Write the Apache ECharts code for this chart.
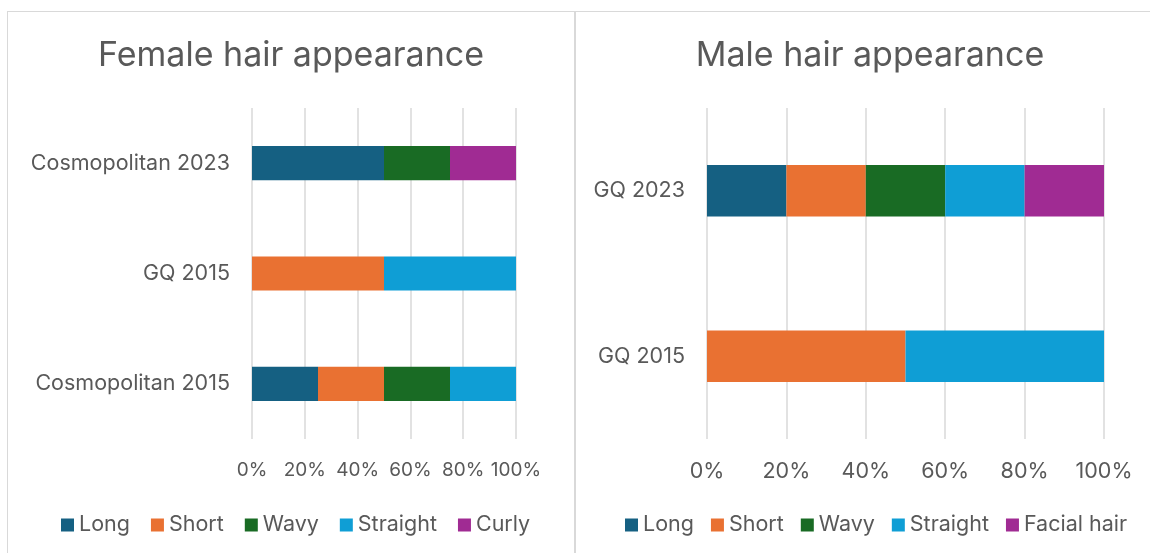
<!DOCTYPE html>
<html>
<head>
<meta charset="utf-8">
<script src="https://cdn.jsdelivr.net/npm/echarts@6/dist/echarts.min.js"></script>
<style>
  body { margin: 0; background: #fff; }
  #wrap { position: relative; width: 1150px; height: 553px; overflow: hidden; }
  .panel { position: absolute; border: 1.5px solid #d9d9d9; }
  #chart { position: absolute; left: 0; top: 0; width: 1150px; height: 553px; }
</style>
</head>
<body>
<div id="wrap">
  <div class="panel" style="left:7px; top:11px; width:566px; height:560px;"></div>
  <div class="panel" style="left:575px; top:11px; width:600px; height:560px;"></div>
  <div id="chart"></div>
</div>
<script>
  // female chart (categories bottom -> top)
  var femaleCats = ['Cosmopolitan 2015', 'GQ 2015', 'Cosmopolitan 2023'];
  var femaleLong = [25, 0, 50];
  var femaleShort = [25, 50, 0];
  var femaleWavy = [25, 0, 25];
  var femaleStraight = [25, 50, 0];
  var femaleCurly = [0, 0, 25];

  // male chart
  var maleCats = ['GQ 2015', 'GQ 2023'];
  var maleLong = [0, 20];
  var maleShort = [50, 20];
  var maleWavy = [0, 20];
  var maleStraight = [50, 20];
  var maleFacial = [0, 20];

  var colors = ['#156082', '#E97132', '#196B24', '#0F9ED5', '#A02B93'];
  var txt = '#595959';
  var font = 'Inter, "Open Sans", sans-serif';

  function bar(name, data, idx, stack, c) {
    return {
      name: name, type: 'bar', stack: stack, data: data,
      xAxisIndex: idx, yAxisIndex: idx, barWidth: '31%',
      itemStyle: { color: c }
    };
  }

  function valAxis(idx, size) {
    return {
      type: 'value', gridIndex: idx, min: 0, max: 100, interval: 20,
      axisLine: { show: false }, axisTick: { show: false },
      splitLine: { lineStyle: { color: '#d9d9d9', width: 1.5 } },
      axisLabel: { color: txt, fontSize: size, fontFamily: font, margin: 22, formatter: '{value}%' }
    };
  }

  function catAxis(idx, cats) {
    return {
      type: 'category', gridIndex: idx, data: cats,
      axisLine: { show: false }, axisTick: { show: false },
      axisLabel: { color: txt, fontSize: 21.5, fontFamily: font, margin: 22 }
    };
  }

  var chart = echarts.init(document.getElementById('chart'));
  chart.setOption({
    animation: false,
    textStyle: { fontFamily: font },
    title: [
      { text: 'Female hair appearance', left: 286, top: 34, textAlign: 'center',
        textStyle: { color: txt, fontSize: 34, fontWeight: 'normal', fontFamily: font } },
      { text: 'Male hair appearance', left: 865, top: 34, textAlign: 'center',
        textStyle: { color: txt, fontSize: 34, fontWeight: 'normal', fontFamily: font } }
    ],
    legend: [
      { data: ['Long', 'Short', 'Wavy', 'Straight', 'Curly'], left: 56, top: 509,
        icon: 'rect', itemWidth: 13, itemHeight: 13, itemGap: 21,
        textStyle: { color: txt, fontSize: 21.5, fontFamily: font } },
      { data: ['Long', 'Short', 'Wavy', 'Straight', 'Facial hair'], left: 620, top: 509,
        icon: 'rect', itemWidth: 13, itemHeight: 13, itemGap: 17,
        textStyle: { color: txt, fontSize: 21.5, fontFamily: font } }
    ],
    grid: [
      { left: 252, right: 634, top: 108, height: 331 },
      { left: 707, right: 46, top: 108, height: 331 }
    ],
    xAxis: [valAxis(0, 19), valAxis(1, 21.5)],
    yAxis: [catAxis(0, femaleCats), catAxis(1, maleCats)],
    series: [
      bar('Long', femaleLong, 0, 'f', colors[0]),
      bar('Short', femaleShort, 0, 'f', colors[1]),
      bar('Wavy', femaleWavy, 0, 'f', colors[2]),
      bar('Straight', femaleStraight, 0, 'f', colors[3]),
      bar('Curly', femaleCurly, 0, 'f', colors[4]),
      bar('Long', maleLong, 1, 'm', colors[0]),
      bar('Short', maleShort, 1, 'm', colors[1]),
      bar('Wavy', maleWavy, 1, 'm', colors[2]),
      bar('Straight', maleStraight, 1, 'm', colors[3]),
      bar('Facial hair', maleFacial, 1, 'm', colors[4])
    ]
  });
</script>
</body>
</html>
